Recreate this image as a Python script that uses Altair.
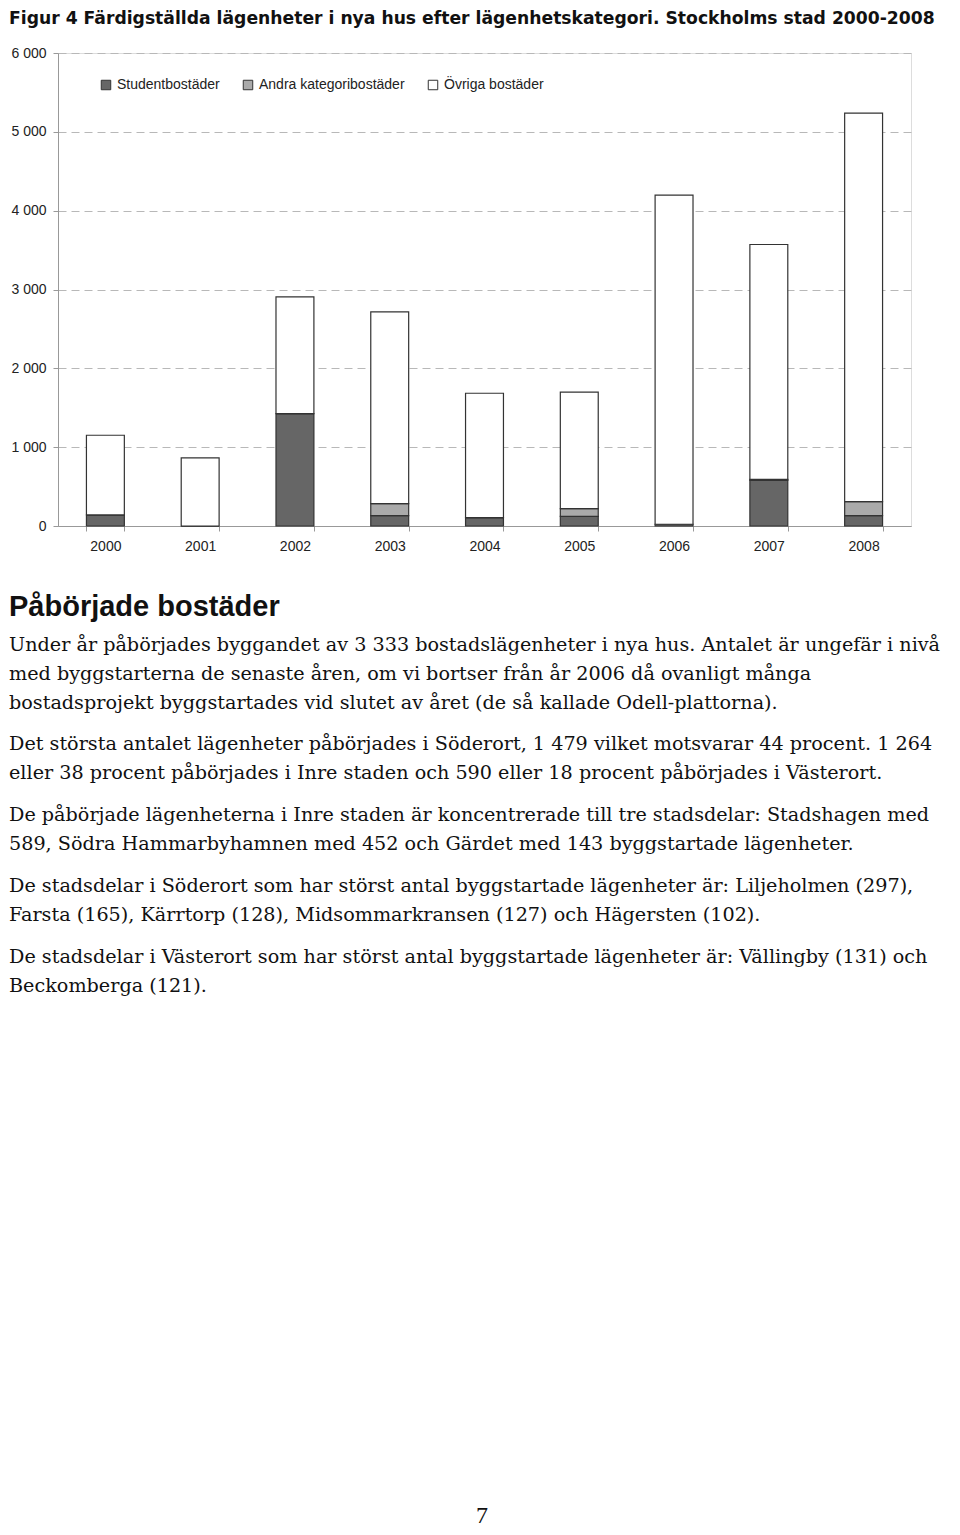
import altair as alt
import pandas as pd

years = ["2000", "2001", "2002", "2003", "2004", "2005", "2006", "2007", "2008"]
student = [140, 0, 1426, 132, 107, 123, 22, 580, 132]
andra = [0, 0, 0, 152, 0, 98, 0, 12, 178]
ovriga = [1011, 863, 1480, 2432, 1577, 1476, 4175, 2979, 4927]
categories = ["Studentbostäder", "Andra kategoribostäder", "Övriga bostäder"]
colors = ["#666666", "#aaaaaa", "#ffffff"]

title_text = "Figur 4 Färdigställda lägenheter i nya hus efter lägenhetskategori. Stockholms stad 2000-2008"
heading_text = "Påbörjade bostäder"
paragraphs = [
    ["Under år påbörjades byggandet av 3 333 bostadslägenheter i nya hus. Antalet är ungefär i nivå",
     "med byggstarterna de senaste åren, om vi bortser från år 2006 då ovanligt många",
     "bostadsprojekt byggstartades vid slutet av året (de så kallade Odell-plattorna)."],
    ["Det största antalet lägenheter påbörjades i Söderort, 1 479 vilket motsvarar 44 procent. 1 264",
     "eller 38 procent påbörjades i Inre staden och 590 eller 18 procent påbörjades i Västerort."],
    ["De påbörjade lägenheterna i Inre staden är koncentrerade till tre stadsdelar: Stadshagen med",
     "589, Södra Hammarbyhamnen med 452 och Gärdet med 143 byggstartade lägenheter."],
    ["De stadsdelar i Söderort som har störst antal byggstartade lägenheter är: Liljeholmen (297),",
     "Farsta (165), Kärrtorp (128), Midsommarkransen (127) och Hägersten (102)."],
    ["De stadsdelar i Västerort som har störst antal byggstartade lägenheter är: Vällingby (131) och",
     "Beckomberga (121)."],
]
page_number = "7"

rows = []
for i, y in enumerate(years):
    for k, (cat, vals) in enumerate(zip(categories, [student, andra, ovriga])):
        rows.append({"year": y, "cat": cat, "value": vals[i], "order": k})
df = pd.DataFrame(rows)

PLOT_L, PLOT_T = 58, 53  # page coords of plot origin
W, H = 853, 473
TOTAL_W, TOTAL_H = 944, 1519

bars = alt.Chart(df).mark_bar(stroke="#333333", strokeWidth=1.2).encode(
    x=alt.X("year:N", title=None, sort=years,
            scale=alt.Scale(paddingInner=0.6, paddingOuter=0.3),
            axis=alt.Axis(labelAngle=0, tickBand="extent", tickSize=5, tickColor="#999999",
                          domainColor="#999999", labelFont="Liberation Sans", labelFontSize=14,
                          labelColor="#222222", labelPadding=8, grid=False)),
    y=alt.Y("value:Q", title=None, stack="zero",
            scale=alt.Scale(domain=[0, 6000], nice=False),
            axis=alt.Axis(values=[0, 1000, 2000, 3000, 4000, 5000, 6000],
                          labelExpr="replace(format(datum.value, ','), ',', ' ')",
                          grid=True, gridDash=[8, 5], gridColor="#b8b8b8",
                          tickSize=5, tickColor="#999999", domainColor="#999999",
                          labelFont="Liberation Sans", labelFontSize=14, labelColor="#222222",
                          labelPadding=7)),
    color=alt.Color("cat:N", sort=categories,
                    scale=alt.Scale(domain=categories, range=colors),
                    legend=alt.Legend(title=None, orient="none", legendX=41, legendY=25,
                                      direction="horizontal", symbolType="square",
                                      symbolSize=90, symbolStrokeColor="#333333",
                                      symbolStrokeWidth=1, labelFont="Liberation Sans",
                                      labelFontSize=14, labelColor="#222222",
                                      columnPadding=21, labelOffset=4, padding=0)),
    order=alt.Order("order:Q", sort="ascending"),
)


def text_layer(txt, px, py, font, size, weight="normal", align="left", line_height=29):
    return alt.Chart(alt.InlineData(values=[{"k": 1}])).mark_text(
        align=align, baseline="middle", font=font, fontSize=size, fontWeight=weight,
        color="#111111", lineBreak="\n", lineHeight=line_height,
    ).encode(x=alt.value(px - PLOT_L), y=alt.value(py - PLOT_T), text=alt.value(txt))


layers = [bars]
layers.append(text_layer(title_text, 9, 19, "DejaVu Sans", 17.2, weight="bold"))
layers.append(text_layer(heading_text, 9, 607, "Liberation Sans", 29, weight="bold"))
para_tops = [645, 744, 815, 886, 957]
for top, lines in zip(para_tops, paragraphs):
    layers.append(text_layer("\n".join(lines), 9, top, "DejaVu Serif", 19.2))
layers.append(text_layer(page_number, 482, 1516, "Liberation Serif", 24, align="center"))

chart = alt.layer(*layers).properties(
    width=W, height=H,
    autosize=alt.AutoSizeParams(type="none"),
    padding={"left": PLOT_L - 8, "top": PLOT_T - 8, "right": TOTAL_W - (PLOT_L - 8) - W,
             "bottom": TOTAL_H - (PLOT_T - 8) - H},
).configure_view(stroke="#999999", strokeWidth=1).configure(background="white")

chart.save("out.html", embed_options={"renderer": "svg", "actions": False})
